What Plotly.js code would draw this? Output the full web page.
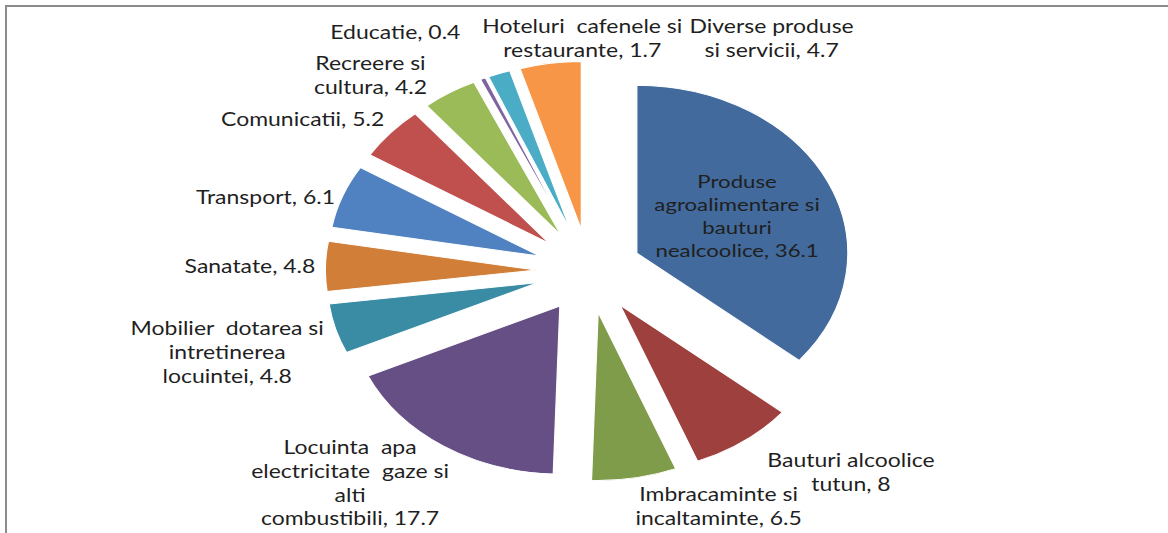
<!DOCTYPE html>
<html>
<head>
<meta charset="utf-8">
<script src="https://cdn.plot.ly/plotly-3.0.1.min.js"></script>
<style>
  html, body { margin: 0; padding: 0; background: #ffffff; overflow: hidden; width: 1168px; height: 533px; }
  #frame { position: absolute; left: 5px; top: 5px; width: 1200px; height: 560px;
           border-left: 2px solid #8c8c8c; border-top: 2px solid #8c8c8c; }
  /* the reference picture is stretched horizontally (its pie is an ellipse), so the chart is widened the same way */
  #chart { position: absolute; left: 0; top: 0; width: 930px; height: 533px;
           transform: scaleX(1.256); transform-origin: 0 0; }
</style>
</head>
<body>
<div id="frame"></div>
<div id="chart"></div>
<script>
const categories = [
  "Produse<br>agroalimentare si<br>bauturi<br>nealcoolice",
  "Bauturi alcoolice<br>tutun",
  "Imbracaminte si<br>incaltaminte",
  "Locuinta  apa<br>electricitate  gaze si<br>alti<br>combustibili",
  "Mobilier  dotarea si<br>intretinerea<br>locuintei",
  "Sanatate",
  "Transport",
  "Comunicatii",
  "Recreere si<br>cultura",
  "Educatie",
  "Hoteluri  cafenele si<br>restaurante",
  "Diverse produse<br>si servicii"
];
const values = [36.1, 8, 6.5, 17.7, 4.8, 4.8, 6.1, 5.2, 4.2, 0.4, 1.7, 4.7];
const colors = ["#426a9c", "#9e403e", "#7f9c4a", "#664f84", "#3a8ca4", "#d07e38",
                "#5082c2", "#c0504d", "#9bbb59", "#8064a2", "#4bacc6", "#f79646"];

const FONT = "Lato, 'Open Sans', sans-serif";
const FS = 18.3;
const STRETCH = 1.256;
const W = 930, H = 533;
const M = { l: 8, r: 0, t: 61, b: 52 };

const texts = categories.map((c, i) => c + ", " + values[i]);

// label anchor points (centre of each label block) in page pixels, as placed in the reference
const labelPos = {
  1:  [851, 472],
  2:  [719, 506],
  3:  [350, 482],
  4:  [227, 352],
  5:  [250, 266],
  6:  [266, 197],
  7:  [303, 119],
  8:  [370, 75],
  9:  [396, 32],
  10: [582, 38],
  11: [772, 38]
};
const positions = values.map((v, i) => labelPos[i] ? "none" : "inside");

const trace = {
  type: "pie",
  values: values,
  labels: categories.map(c => c.replace(/<br>/g, " ")),
  text: texts,
  textinfo: "text",
  hoverinfo: "label+value",
  textposition: positions,
  insidetextorientation: "horizontal",
  sort: false,
  direction: "clockwise",
  rotation: 0,
  pull: values.map(() => 0.25),
  marker: { colors: colors, line: { color: "#ffffff", width: 1 } },
  textfont: { family: FONT, size: FS, color: "#1f1f1f" },
  insidetextfont: { family: FONT, size: FS, color: "#1f1f1f" },
  automargin: false
};

const pw = W - M.l - M.r, ph = H - M.t - M.b;
const annotations = Object.keys(labelPos).map(k => {
  const [px, py] = labelPos[k];
  return {
    xref: "paper", yref: "paper",
    x: (px / STRETCH - M.l) / pw,
    y: (H - M.b - py) / ph,
    text: texts[k],
    showarrow: false,
    align: "center",
    xanchor: "center", yanchor: "middle",
    font: { family: FONT, size: FS, color: "#1f1f1f" }
  };
});

const layout = {
  width: W,
  height: H,
  margin: M,
  paper_bgcolor: "rgba(0,0,0,0)",
  plot_bgcolor: "rgba(0,0,0,0)",
  showlegend: false,
  annotations: annotations,
  font: { family: FONT, size: FS, color: "#1f1f1f" }
};

Plotly.newPlot("chart", [trace], layout, { displayModeBar: false, staticPlot: true });
</script>
</body>
</html>
